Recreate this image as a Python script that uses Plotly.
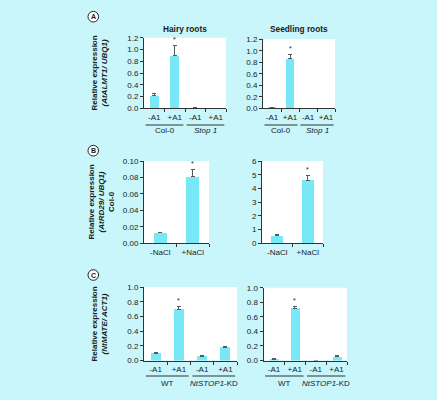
import plotly.graph_objects as go

# ---------------- data ----------------
a_ticks = ["-A1", "+A1", "-A1", "+A1"]
a_groups = ["Col-0", "<i>Stop 1</i>"]
hairy_vals = [0.21, 0.90, 0.01, 0.0]
hairy_err = [0.05, 0.17, 0.0, 0.0]
hairy_star = [False, True, False, False]
seed_vals = [0.02, 0.86, 0.0, 0.0]
seed_err = [0.0, 0.07, 0.0, 0.0]
seed_star = [False, True, False, False]

b_ticks = ["-NaCl", "+NaCl"]
b_left_vals = [0.013, 0.081]
b_left_err = [0.0, 0.009]
b_left_star = [False, True]
b_right_vals = [0.55, 4.6]
b_right_err = [0.1, 0.35]
b_right_star = [False, True]

c_ticks = ["-A1", "+A1", "-A1", "+A1"]
c_groups = ["WT", "<i>NtSTOP1</i>-KD"]
c_left_vals = [0.10, 0.70, 0.055, 0.18]
c_left_err = [0.015, 0.04, 0.008, 0.008]
c_left_star = [False, True, False, False]
c_right_vals = [0.02, 0.72, 0.0, 0.055]
c_right_err = [0.01, 0.02, 0.0, 0.008]
c_right_star = [False, True, False, False]

# ---------------- style ----------------
W, H = 437, 400
BG = "rgb(200,246,251)"
BAR = "rgb(120,232,247)"
AX = "#333333"
TXT = "#1a1a1a"
FONT = "Liberation Sans, Arial, sans-serif"
TICK_SIZE = 8

def px(x):
    return x / W

def py(y):
    return 1 - y / H

fig = go.Figure()

panels = [
    # vals, err, star, ticks, yrange, dtick, fmt, x0,x1,ytop,ybot, barwidth
    (hairy_vals, hairy_err, hairy_star, a_ticks, [0, 1.2], 0.2, ".1f", 144, 226, 37.7, 108.3, 0.45),
    (seed_vals, seed_err, seed_star, a_ticks, [0, 1.2], 0.2, ".1f", 263, 335, 39.2, 108.3, 0.45),
    (b_left_vals, b_left_err, b_left_star, b_ticks, [0, 0.10], 0.02, ".2f", 144, 209, 161, 243.3, 0.39),
    (b_right_vals, b_right_err, b_right_star, b_ticks, [0, 6], 1, "d", 262, 323, 161, 243.3, 0.39),
    (c_left_vals, c_left_err, c_left_star, c_ticks, [0, 1.0], 0.2, ".1f", 144, 237, 287, 360.5, 0.43),
    (c_right_vals, c_right_err, c_right_star, c_ticks, [0, 1.0], 0.2, ".1f", 263.5, 347, 287.7, 360.5, 0.43),
]

annotations = []
shapes = []
for i, (vals, err, star, ticks, yr, dt, fmt, x0, x1, yt, yb, bw) in enumerate(panels, start=1):
    xa = "x" if i == 1 else f"x{i}"
    ya = "y" if i == 1 else f"y{i}"
    n = len(vals)
    xs = list(range(n))
    fig.add_trace(go.Bar(
        x=xs, y=vals, width=bw, marker=dict(color=BAR, line=dict(width=0)),
        error_y=dict(type="data", array=err, arrayminus=[0] * n, symmetric=False,
                     color="#4d5c60", thickness=1, width=2, visible=True),
        xaxis=xa, yaxis=ya, showlegend=False, hoverinfo="skip"))
    for k in range(n):
        if star[k]:
            annotations.append(dict(x=k, y=vals[k] + err[k], xref=xa, yref=ya, text="*",
                                    xanchor="center", yanchor="middle",
                                    showarrow=False, yshift=6, font=dict(size=7, color=TXT, family=FONT)))
    xkey = "xaxis" if i == 1 else f"xaxis{i}"
    ykey = "yaxis" if i == 1 else f"yaxis{i}"
    fig.update_layout(**{
        xkey: dict(domain=[px(x0), px(x1)], anchor=ya, range=[-0.5, n - 0.5],
                   tickmode="array", tickvals=xs, ticktext=ticks, ticks="outside", ticklen=1,
                   tickcolor="rgba(0,0,0,0)",
                   showline=True, linecolor=AX, linewidth=1, showgrid=False, zeroline=False,
                   tickfont=dict(size=TICK_SIZE, color=TXT, family=FONT),
                   minor=dict(tickmode="array", tickvals=[k + 0.5 for k in range(n)],
                              ticks="outside", ticklen=3, tickcolor=AX, tickwidth=1),
                   automargin=False, fixedrange=True),
        ykey: dict(domain=[py(yb), py(yt)], anchor=xa, range=yr, dtick=dt, tick0=0,
                   tickformat=fmt, ticks="outside", ticklen=3, tickcolor=AX, tickwidth=1,
                   showline=True, linecolor=AX, linewidth=1, showgrid=False, zeroline=False,
                   tickfont=dict(size=TICK_SIZE, color=TXT, family=FONT),
                   automargin=False, fixedrange=True),
    })

# group labels with lines (panels A and C)
group_specs = [
    ("x", a_groups, 125, 130.5),
    ("x2", a_groups, 125, 130.5),
    ("x5", c_groups, 376, 383.5),
    ("x6", c_groups, 376, 383.5),
]
for xa, groups, line_y, text_y in group_specs:
    for g, name in enumerate(groups):
        c0 = 2 * g
        shapes.append(dict(type="line", xref=xa, yref="paper", x0=c0 - 0.42, x1=c0 + 1.42,
                           y0=py(line_y), y1=py(line_y), line=dict(color=AX, width=1)))
        annotations.append(dict(x=c0 + 0.5, y=py(text_y), xref=xa, yref="paper", text=name,
                                xanchor="center", yanchor="middle",
                                showarrow=False, font=dict(size=TICK_SIZE, color=TXT, family=FONT)))

# titles
for x, t in [(185, "<b>Hairy roots</b>"), (299, "<b>Seedling roots</b>")]:
    annotations.append(dict(x=px(x), y=py(28.5), xref="paper", yref="paper", text=t,
                            xanchor="center", yanchor="middle",
                            showarrow=False, font=dict(size=8.3, color=TXT, family=FONT)))

# y-axis titles
ytitles = [
    (98.5, 73, "<b>Relative expression<br><i>(AtALMT1/ UBQ1)</i></b>"),
    (101.5, 202, "<b>Relative expression<br><i>(AtRD29/ UBQ1)</i><br>Col-0</b>"),
    (98.5, 324, "<b>Relative expression<br><i>(NtMATE/ ACT1)</i></b>"),
]
for x, y, t in ytitles:
    annotations.append(dict(x=px(x), y=py(y), xref="paper", yref="paper", text=t, textangle=-90,
                            xanchor="center", yanchor="middle",
                            showarrow=False, font=dict(size=8, color=TXT, family=FONT)))

# panel letters in circles
for letter, cx, cy in [("A", 93.3, 16.7), ("B", 93.3, 150.7), ("C", 93.3, 275)]:
    r = 5.3
    shapes.append(dict(type="circle", xref="paper", yref="paper", x0=px(cx - r), x1=px(cx + r),
                       y0=py(cy + r), y1=py(cy - r), line=dict(color="#222", width=1), fillcolor="white"))
    annotations.append(dict(x=px(cx), y=py(cy), xref="paper", yref="paper", text=f"<b>{letter}</b>",
                            xanchor="center", yanchor="middle",
                            showarrow=False, font=dict(size=7, color=TXT, family=FONT)))

fig.update_layout(width=W, height=H, margin=dict(l=0, r=0, t=0, b=0, autoexpand=False),
                  paper_bgcolor=BG, plot_bgcolor="white", bargap=0,
                  annotations=annotations, shapes=shapes, font=dict(family=FONT))

fig.write_html("out.html", config={"displayModeBar": False},
               post_script="document.body.style.margin='0';document.body.style.overflow='hidden';")
